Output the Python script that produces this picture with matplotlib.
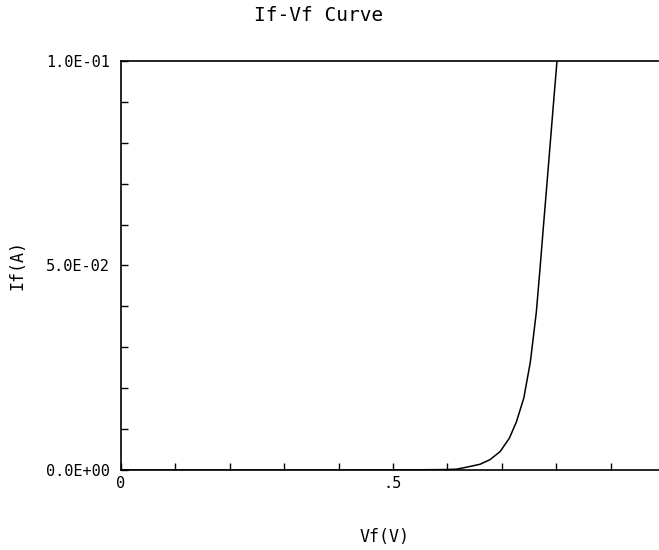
import matplotlib
matplotlib.use("Agg")
import matplotlib.pyplot as plt

# points
vf = [0.0, 0.1, 0.2, 0.3, 0.4, 0.5, 0.55, 0.596, 0.617, 0.636, 0.660, 0.678, 0.697, 0.714, 0.727,
      0.7405, 0.7525, 0.7635, 0.7705, 0.776, 0.781, 0.787, 0.7945, 0.8015]
i_f = [0.0, 0.0, 0.0, 0.0, 0.0, 0.00002, 0.00005, 0.0001, 0.0002, 0.0007, 0.0014, 0.0025, 0.0045, 0.0078, 0.0118,
       0.0176, 0.0264, 0.0386, 0.0496, 0.0587, 0.0667, 0.0765, 0.0888, 0.1]

ytick_vals = [0.0, 0.05, 0.1]
ytick_labels = ["0.0E+00", "5.0E-02", "1.0E-01"]
xtick_vals = [0.0, 0.5]
xtick_labels = ["0", ".5"]

mono = "DejaVu Sans Mono"

fig = plt.figure(figsize=(6.59, 5.5), dpi=100)
ax = fig.add_axes([0.1836, 0.1455, 0.8164, 0.7436])

ax.plot(vf, i_f, color="black", linewidth=1.1)

ax.set_xlim(0, 0.989)
ax.set_ylim(0, 0.1)

ax.spines["right"].set_visible(False)
for s in ["left", "top", "bottom"]:
    ax.spines[s].set_linewidth(1.2)

ax.set_yticks(ytick_vals)
ax.set_yticklabels(ytick_labels, fontfamily=mono, fontsize=11)
ax.set_yticks([k / 100 for k in range(1, 10) if k != 5], minor=True)
ax.set_xticks(xtick_vals)
ax.set_xticklabels(xtick_labels, fontfamily=mono, fontsize=11)
ax.set_xticks([k / 10 for k in range(1, 10) if k != 5], minor=True)

ax.tick_params(axis="both", which="both", direction="in", length=5, width=1.0, color="black")
ax.tick_params(axis="y", which="major", pad=8)
ax.tick_params(axis="x", which="major", pad=4)
ax.tick_params(top=False, right=False, which="both")

ax.set_title("If-Vf Curve", fontfamily=mono, fontsize=14, pad=29, x=0.367)
ax.set_xlabel("Vf(V)", fontfamily=mono, fontsize=12, labelpad=27, x=0.49)
ax.set_ylabel("If(A)", fontfamily=mono, fontsize=12, labelpad=14)

fig.savefig("out.png", dpi=100, facecolor="white")
